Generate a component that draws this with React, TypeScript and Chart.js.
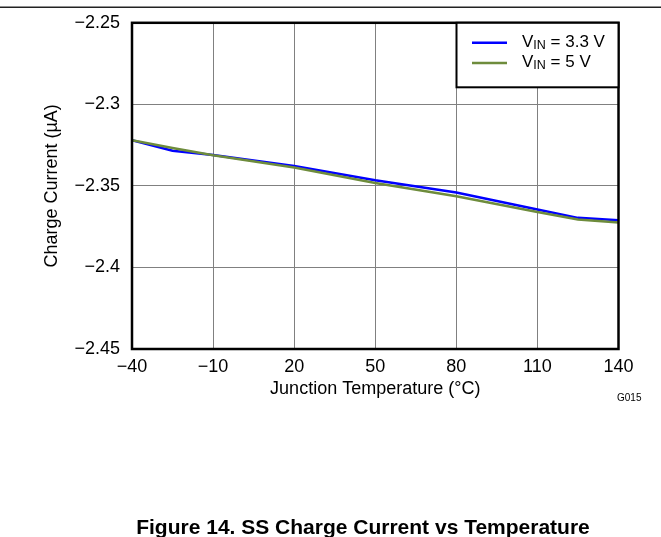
import React, { useEffect, useRef } from "react";
import { Chart, registerables } from "chart.js";

Chart.register(...registerables);

// ---- data ----
const temperatures = [-40, -25, -10, 20, 50, 80, 110, 125, 140];
const vin33 = [-2.322, -2.3285, -2.331, -2.3378, -2.3465, -2.354, -2.3645, -2.3696, -2.371];
const vin5 = [-2.322, -2.3268, -2.3312, -2.3387, -2.3482, -2.3563, -2.366, -2.3706, -2.3724];
const xTicks = [-40, -10, 20, 50, 80, 110, 140];
const xTickLabels = ["−40", "−10", "20", "50", "80", "110", "140"];
const yTicks = [-2.25, -2.3, -2.35, -2.4, -2.45];
const yTickLabels = ["−2.25", "−2.3", "−2.35", "−2.4", "−2.45"];
const seriesLabels = [" = 3.3 V", " = 5 V"];
const seriesColors = ["#0000ff", "#6e8c3c"];
const xTitle = "Junction Temperature (°C)";
const yTitle = "Charge Current (µA)";
const caption = "Figure 14. SS Charge Current vs Temperature";
const graphId = "G015";

const FONT = "'Liberation Sans', Arial, Helvetica, sans-serif";

const overlay = {
  id: "overlay",
  afterDraw(chart: any) {
    const ctx = chart.ctx as CanvasRenderingContext2D;
    const { left, top, right, bottom } = chart.chartArea;
    ctx.save();
    // frame
    ctx.strokeStyle = "#000";
    ctx.lineWidth = 2.5;
    ctx.strokeRect(left, top, right - left, bottom - top);

    // legend box
    const lx = 456.5;
    const lw = right - lx;
    const lh = 64.5;
    ctx.fillStyle = "#fff";
    ctx.fillRect(lx, top, lw, lh);
    ctx.lineWidth = 2;
    ctx.strokeRect(lx, top, lw, lh);
    const rows = [42.7, 63];
    rows.forEach((ry, i) => {
      ctx.strokeStyle = seriesColors[i];
      ctx.lineWidth = 2.5;
      ctx.beginPath();
      ctx.moveTo(472, ry);
      ctx.lineTo(507, ry);
      ctx.stroke();
      const base = ry + 4;
      ctx.fillStyle = "#000";
      ctx.textBaseline = "alphabetic";
      ctx.textAlign = "left";
      let x = 522;
      ctx.font = `17px ${FONT}`;
      ctx.fillText("V", x, base);
      x += ctx.measureText("V").width;
      ctx.font = `12.5px ${FONT}`;
      ctx.fillText("IN", x, base + 2);
      x += ctx.measureText("IN").width;
      ctx.font = `17px ${FONT}`;
      ctx.fillText(seriesLabels[i], x, base);
    });

    // top rule
    ctx.strokeStyle = "#222";
    ctx.lineWidth = 1.5;
    ctx.beginPath();
    ctx.moveTo(0, 7.3);
    ctx.lineTo(chart.width, 7.3);
    ctx.stroke();

    // graph id
    ctx.fillStyle = "#000";
    ctx.font = `10px ${FONT}`;
    ctx.textAlign = "left";
    ctx.textBaseline = "middle";
    ctx.fillText(graphId, 617, 398);

    // caption
    ctx.font = `bold 21px ${FONT}`;
    ctx.textAlign = "center";
    ctx.textBaseline = "alphabetic";
    ctx.fillText(caption, 363, 534);
    ctx.restore();
  },
};

export default function App() {
  const ref = useRef<HTMLCanvasElement | null>(null);
  useEffect(() => {
    if (!ref.current) return;
    const chart = new Chart(ref.current, {
      type: "line",
      data: {
        datasets: [
          {
            label: "VIN = 3.3 V",
            data: temperatures.map((t, i) => ({ x: t, y: vin33[i] })),
            borderColor: seriesColors[0],
            borderWidth: 2.5,
            pointRadius: 0,
            tension: 0,
            order: 1,
          },
          {
            label: "VIN = 5 V",
            data: temperatures.map((t, i) => ({ x: t, y: vin5[i] })),
            borderColor: seriesColors[1],
            borderWidth: 2.5,
            pointRadius: 0,
            tension: 0,
            order: 0,
          },
        ],
      },
      options: {
        animation: false,
        responsive: false,
        devicePixelRatio: 1,
        layout: { padding: { top: 21.5, right: 42.5, bottom: 128, left: 0 } },
        plugins: { legend: { display: false }, tooltip: { enabled: false } },
        scales: {
          x: {
            type: "linear",
            min: -40,
            max: 140,
            afterBuildTicks: (s: any) => {
              s.ticks = xTicks.map((v) => ({ value: v }));
            },
            afterFit: (s: any) => {
              s.height = 60;
            },
            ticks: {
              autoSkip: false,
              maxRotation: 0,
              padding: 7,
              color: "#000",
              font: { family: FONT, size: 18 },
              callback: (_v: any, i: number) => xTickLabels[i],
            },
            grid: { color: "#808080", lineWidth: 1, drawTicks: false },
            border: { display: false },
            title: {
              display: true,
              text: xTitle,
              color: "#000",
              font: { family: FONT, size: 18 },
              padding: { top: 0, bottom: 9 },
            },
          },
          y: {
            type: "linear",
            min: -2.45,
            max: -2.25,
            afterBuildTicks: (s: any) => {
              s.ticks = yTicks.map((v) => ({ value: v }));
            },
            afterFit: (s: any) => {
              s.width = 132;
            },
            ticks: {
              autoSkip: false,
              padding: 12,
              color: "#000",
              font: { family: FONT, size: 18 },
              callback: (_v: any, i: number) => yTickLabels[i],
            },
            grid: { color: "#808080", lineWidth: 1, drawTicks: false },
            border: { display: false },
            title: {
              display: true,
              text: yTitle,
              color: "#000",
              font: { family: FONT, size: 18 },
              padding: { top: 41, bottom: 0 },
            },
          },
        },
      },
      plugins: [overlay],
    } as any);
    return () => chart.destroy();
  }, []);
  return (
    <div style={{ position: "absolute", left: 0, top: 0, width: 661, height: 537, background: "#fff" }}>
      <canvas ref={ref} width={661} height={537} style={{ width: 661, height: 537, display: "block" }} />
    </div>
  );
}
